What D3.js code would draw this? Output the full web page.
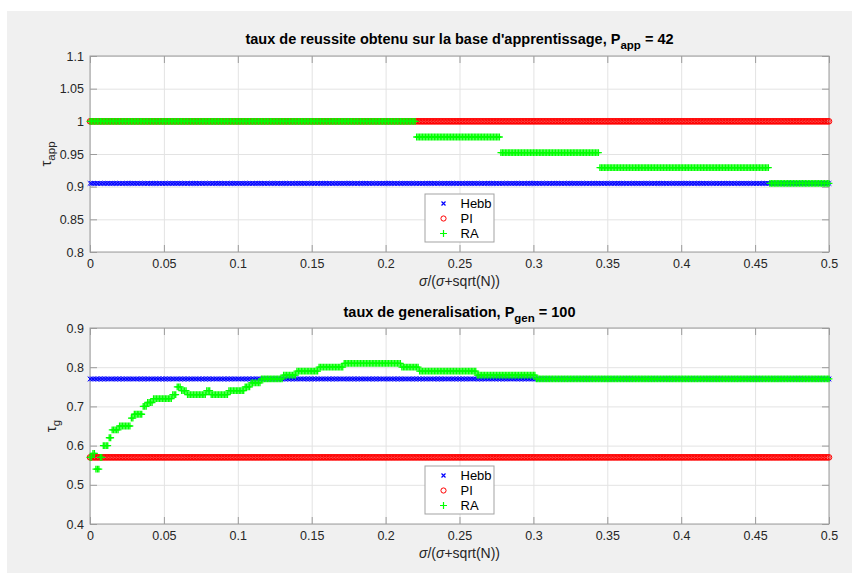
<!DOCTYPE html>
<html>
<head>
<meta charset="utf-8">
<script src="https://cdn.jsdelivr.net/npm/d3@7/dist/d3.min.js"></script>
<style>
body { margin: 0; background: #fff; }
svg { display: block; font-family: "Liberation Sans", Arial, Helvetica, sans-serif; }
</style>
</head>
<body>
<svg id="chart" width="852" height="573"></svg>
<script>
// sampled values of sigma/(sigma+sqrt(N))
var xSamples = d3.range(0, 501).map(function(i) { return i / 1000; });

// each series as runs: [x start, x end, value]
var hebbApp = [[0, 0.5, 0.905]];
var piApp = [[0, 0.5, 1.0]];
var raApp = [
    [0, 0.221, 1.0],
    [0.221, 0.278, 0.976],
    [0.278, 0.345, 0.952],
    [0.345, 0.460, 0.929],
    [0.460, 0.5, 0.905]
];

var hebbGen = [[0, 0.5, 0.77]];
var piGen = [[0, 0.5, 0.57]];
var raGen = [
    [0, 0.002, 0.57],
    [0.002, 0.004, 0.58],
    [0.004, 0.007, 0.54],
    [0.007, 0.009, 0.57],
    [0.009, 0.013, 0.60],
    [0.013, 0.015, 0.62],
    [0.015, 0.020, 0.64],
    [0.020, 0.028, 0.65],
    [0.028, 0.030, 0.67],
    [0.030, 0.036, 0.68],
    [0.036, 0.039, 0.70],
    [0.039, 0.043, 0.71],
    [0.043, 0.056, 0.72],
    [0.056, 0.059, 0.73],
    [0.059, 0.062, 0.75],
    [0.062, 0.066, 0.74],
    [0.066, 0.079, 0.73],
    [0.079, 0.082, 0.74],
    [0.082, 0.094, 0.73],
    [0.094, 0.105, 0.74],
    [0.105, 0.109, 0.75],
    [0.109, 0.116, 0.76],
    [0.116, 0.131, 0.77],
    [0.131, 0.140, 0.78],
    [0.140, 0.155, 0.79],
    [0.155, 0.172, 0.80],
    [0.172, 0.211, 0.81],
    [0.211, 0.223, 0.80],
    [0.223, 0.262, 0.79],
    [0.262, 0.302, 0.78],
    [0.302, 0.5, 0.77]
];

var xTicks = [0, 0.05, 0.1, 0.15, 0.2, 0.25, 0.3, 0.35, 0.4, 0.45, 0.5];
var xTickLabels = ["0", "0.05", "0.1", "0.15", "0.2", "0.25", "0.3", "0.35", "0.4", "0.45", "0.5"];
var appTicks = [0.8, 0.85, 0.9, 0.95, 1, 1.05, 1.1];
var appTickLabels = ["0.8", "0.85", "0.9", "0.95", "1", "1.05", "1.1"];
var genTicks = [0.4, 0.5, 0.6, 0.7, 0.8, 0.9];
var genTickLabels = ["0.4", "0.5", "0.6", "0.7", "0.8", "0.9"];
var legendNames = ["Hebb", "PI", "RA"];

function valueAt(runs, x) {
    for (var i = 0; i < runs.length; i++) {
        var r = runs[i];
        if (x >= r[0] - 1e-9 && (x < r[1] - 1e-9 || i === runs.length - 1)) return r[2];
    }
    return null;
}

function expand(runs) {
    return xSamples.map(function(x) { return { x: x, y: valueAt(runs, x) }; });
}

var svg = d3.select("#chart");

// figure background
svg.append("rect").attr("x", 7).attr("y", 11).attr("width", 845).attr("height", 562).attr("fill", "#f0f0f0");

var left = 90, right = 829;
var x = d3.scaleLinear().domain([0, 0.5]).range([left, right]);

var markerPaths = {
    x: function(a) { return "M" + (-a) + "," + (-a) + "L" + a + "," + a + "M" + (-a) + "," + a + "L" + a + "," + (-a); },
    plus: function(a) { return "M" + (-a) + ",0H" + a + "M0," + (-a) + "V" + a; }
};

function drawMarkers(g, data, kind, color, y) {
    if (kind === "o") {
        g.selectAll(null).data(data).enter().append("circle")
            .attr("cx", function(d) { return x(d.x); })
            .attr("cy", function(d) { return y(d.y); })
            .attr("r", 2.8).attr("fill", "none").attr("stroke", color).attr("stroke-width", 1);
    } else {
        var p = kind === "x" ? markerPaths.x(2.3) : markerPaths.plus(3.4);
        g.selectAll(null).data(data).enter().append("path")
            .attr("d", p)
            .attr("transform", function(d) { return "translate(" + x(d.x) + "," + y(d.y) + ")"; })
            .attr("fill", "none").attr("stroke", color).attr("stroke-width", kind === "x" ? 1 : 1.3);
    }
}

function drawPanel(p) {
    var y = d3.scaleLinear().domain(p.yDomain).range([p.bottom, p.top]);
    var g = svg.append("g");

    // plot area
    g.append("rect").attr("x", left).attr("y", p.top).attr("width", right - left).attr("height", p.bottom - p.top).attr("fill", "#fff");

    // grid
    g.append("g").attr("transform", "translate(0," + p.bottom + ")")
        .call(d3.axisBottom(x).tickValues(xTicks).tickSize(-(p.bottom - p.top)).tickFormat(""))
        .call(function(s) { s.select(".domain").remove(); s.selectAll("line").attr("stroke", "#e3e3e3"); });
    g.append("g").attr("transform", "translate(" + left + ",0)")
        .call(d3.axisLeft(y).tickValues(p.yTicks).tickSize(-(right - left)).tickFormat(""))
        .call(function(s) { s.select(".domain").remove(); s.selectAll("line").attr("stroke", "#e3e3e3"); });

    // box and ticks
    g.append("rect").attr("x", left).attr("y", p.top).attr("width", right - left).attr("height", p.bottom - p.top)
        .attr("fill", "none").attr("stroke", "#9c9c9c").attr("stroke-width", 1);

    var xAxis = g.append("g").attr("transform", "translate(0," + p.bottom + ")")
        .call(d3.axisBottom(x).tickValues(xTicks).tickSize(-7).tickSizeOuter(0).tickPadding(7)
            .tickFormat(function(d, i) { return xTickLabels[i]; }));
    var yAxis = g.append("g").attr("transform", "translate(" + left + ",0)")
        .call(d3.axisLeft(y).tickValues(p.yTicks).tickSize(-7).tickSizeOuter(0).tickPadding(6)
            .tickFormat(function(d, i) { return p.yTickLabels[i]; }));
    var xTop = g.append("g").attr("transform", "translate(0," + p.top + ")")
        .call(d3.axisTop(x).tickValues(xTicks).tickSize(-7).tickFormat(""));
    var yRight = g.append("g").attr("transform", "translate(" + right + ",0)")
        .call(d3.axisRight(y).tickValues(p.yTicks).tickSize(-7).tickFormat(""));
    [xAxis, yAxis, xTop, yRight].forEach(function(a) {
        a.select(".domain").remove();
        a.selectAll("line").attr("stroke", "#9c9c9c");
        a.selectAll("text").attr("fill", "#262626").style("font-size", "12.5px").style("font-family", "Liberation Sans, Arial, sans-serif");
    });

    // title
    var t = svg.append("text").attr("x", (left + right) / 2).attr("y", p.titleY)
        .attr("text-anchor", "middle").attr("font-weight", "bold").attr("font-size", 14.5).attr("fill", "#000");
    t.append("tspan").text(p.title);
    t.append("tspan").attr("dy", 5).attr("font-size", 11.5).text(p.titleSub);
    t.append("tspan").attr("dy", -5).text(p.titleEnd);

    // x label
    var xl = svg.append("text").attr("x", (left + right) / 2).attr("y", p.bottom + 34)
        .attr("text-anchor", "middle").attr("font-size", 14).attr("fill", "#262626");
    xl.append("tspan").attr("font-style", "italic").text("\u03c3");
    xl.append("tspan").text("/(");
    xl.append("tspan").attr("font-style", "italic").text("\u03c3");
    xl.append("tspan").text("+sqrt(N))");

    // y label
    var yl = svg.append("text").attr("transform", "translate(" + p.yLabelX + "," + ((p.top + p.bottom) / 2) + ") rotate(-90)")
        .attr("text-anchor", "middle").attr("font-size", 14).attr("fill", "#262626");
    yl.append("tspan").attr("font-size", 15).text("\u03c4");
    yl.append("tspan").attr("dy", 4).attr("font-size", 11.5).text(p.yLabelSub);

    // markers
    var kinds = ["x", "o", "plus"];
    var colors = ["#0000ff", "#ff0000", "#00ff00"];
    p.series.forEach(function(runs, i) {
        drawMarkers(svg.append("g"), expand(runs), kinds[i], colors[i], y);
    });

    // legend
    var lg = svg.append("g").attr("transform", "translate(425," + p.legendTop + ")");
    lg.append("rect").attr("width", 69).attr("height", 48).attr("fill", "#fff").attr("stroke", "#a3a3a3").attr("stroke-width", 1);
    legendNames.forEach(function(name, i) {
        var cy = 9.5 + i * 15;
        if (kinds[i] === "o") {
            lg.append("circle").attr("cx", 18.5).attr("cy", cy).attr("r", 2.6).attr("fill", "none").attr("stroke", colors[i]).attr("stroke-width", 1);
        } else {
            lg.append("path").attr("d", kinds[i] === "x" ? markerPaths.x(2) : markerPaths.plus(3.5))
                .attr("transform", "translate(18.5," + cy + ")").attr("fill", "none").attr("stroke", colors[i]).attr("stroke-width", 1.2);
        }
        lg.append("text").attr("x", 35.5).attr("y", cy).attr("dy", "0.36em").attr("font-size", 13).attr("fill", "#000").text(name);
    });
}

drawPanel({
    top: 56, bottom: 252, yDomain: [0.8, 1.1], yTicks: appTicks, yTickLabels: appTickLabels,
    title: "taux de reussite obtenu sur la base d'apprentissage, P", titleSub: "app", titleEnd: " = 42", titleY: 44,
    yLabelX: 51, yLabelSub: "app",
    series: [hebbApp, piApp, raApp], legendTop: 194
});

drawPanel({
    top: 328, bottom: 524, yDomain: [0.4, 0.9], yTicks: genTicks, yTickLabels: genTickLabels,
    title: "taux de generalisation, P", titleSub: "gen", titleEnd: " = 100", titleY: 317,
    yLabelX: 56, yLabelSub: "g",
    series: [hebbGen, piGen, raGen], legendTop: 466
});
</script>
</body>
</html>
